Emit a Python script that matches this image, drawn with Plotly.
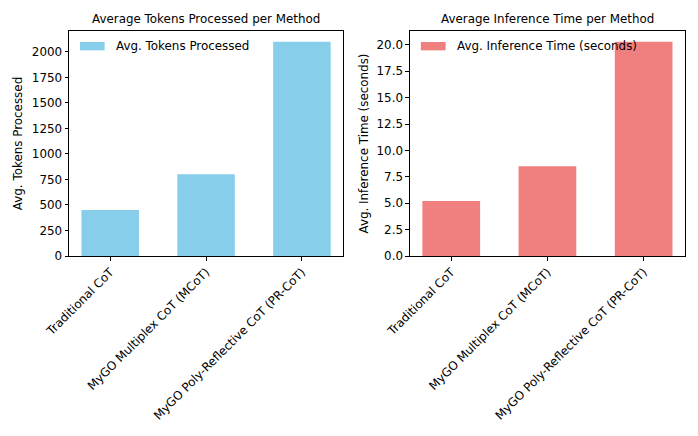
import plotly.graph_objects as go
from plotly.subplots import make_subplots

methods = ["Traditional CoT", "MyGO Multiplex CoT (MCoT)", "MyGO Poly-Reflective CoT (PR-CoT)"]
tokens = [450, 800, 2100]
times = [5.2, 8.5, 20.3]
token_ticks = [0, 250, 500, 750, 1000, 1250, 1500, 1750, 2000]
time_ticks = [0.0, 2.5, 5.0, 7.5, 10.0, 12.5, 15.0, 17.5, 20.0]

FONT = "DejaVu Sans"
FS = 11.9
BLUE = "#87CEEB"
RED = "#F08080"

W, H = 698, 436
L, R, T, B = 69, 698 - 684.7, 30.7, 436 - 255.7
pw = W - L - R
x1_end = (343 - L) / pw
x2_start = (409.7 - L) / pw

fig = make_subplots(rows=1, cols=2)
fig.add_trace(go.Bar(x=methods, y=tokens, marker_color=BLUE, width=0.6,
                     marker_line_width=0, showlegend=False), row=1, col=1)
fig.add_trace(go.Bar(x=methods, y=times, marker_color=RED, width=0.6,
                     marker_line_width=0, showlegend=False), row=1, col=2)

axis_common = dict(showline=True, mirror=True, linecolor="black", linewidth=1,
                   ticks="outside", ticklen=3.5, tickwidth=1, tickcolor="black",
                   showgrid=False, zeroline=False,
                   tickfont=dict(family=FONT, size=FS, color="black"))

fig.update_xaxes(**axis_common, tickangle=-45, range=[-0.43, 2.43])
fig.update_layout(
    xaxis=dict(domain=[0, x1_end]),
    xaxis2=dict(domain=[x2_start, 1]),
)
fig.update_yaxes(**axis_common)
fig.update_layout(
    yaxis=dict(range=[0, max(tokens) * 1.05], tickvals=token_ticks,
               title=dict(text="Avg. Tokens Processed", standoff=6,
                          font=dict(family=FONT, size=FS, color="black"))),
    yaxis2=dict(range=[0, max(times) * 1.05], tickvals=time_ticks,
                ticktext=[f"{v:.1f}" for v in time_ticks],
                title=dict(text="Avg. Inference Time (seconds)", standoff=5,
                           font=dict(family=FONT, size=FS, color="black"))),
)

# titles
for xr, yr, txt in [("x domain", "y domain", "Average Tokens Processed per Method"),
                    ("x2 domain", "y2 domain", "Average Inference Time per Method")]:
    fig.add_annotation(xref=xr, yref=yr, x=0.5, y=1, yanchor="bottom", yshift=3,
                       text=txt, showarrow=False,
                       font=dict(family=FONT, size=FS, color="black"))

# legends (patch + label)
for xr, yr, col, txt in [("x domain", "y domain", BLUE, "Avg. Tokens Processed"),
                         ("x2 domain", "y2 domain", RED, "Avg. Inference Time (seconds)")]:
    fig.add_shape(type="rect", xref=xr, yref=yr, x0=0.04, x1=0.13, y0=0.914, y1=0.951,
                  fillcolor=col, line_width=0)
    fig.add_annotation(xref=xr, yref=yr, x=0.164, y=0.933, xanchor="left", yanchor="middle",
                       text=txt, showarrow=False,
                       font=dict(family=FONT, size=FS, color="black"))

fig.update_layout(
    width=W, height=H,
    margin=dict(l=L, r=R, t=T, b=B, autoexpand=False),
    plot_bgcolor="white", paper_bgcolor="white",
    bargap=0.4,
    font=dict(family=FONT, size=FS, color="black"),
)
fig.write_html("out.html", config={"displayModeBar": False},
               post_script="document.body.style.margin='0px';document.body.style.padding='0px';")
